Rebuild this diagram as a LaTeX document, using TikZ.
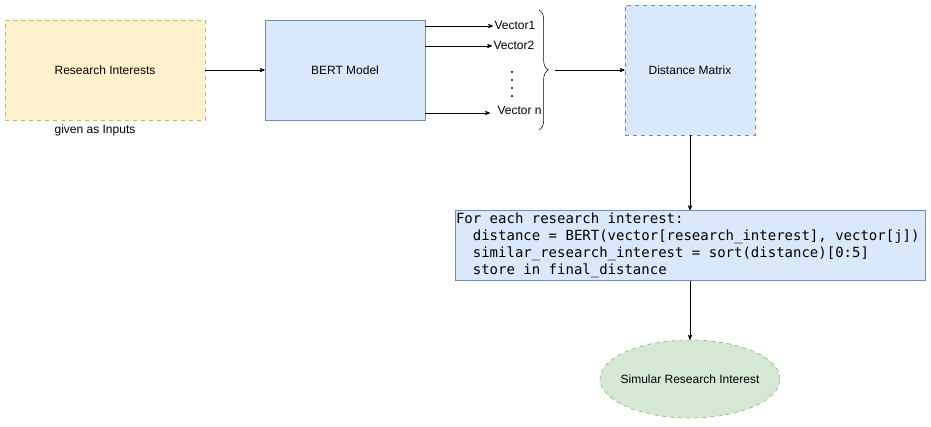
\documentclass[tikz,border=0pt]{standalone}
\usepackage{fontspec}
\setmainfont{Liberation Sans}
\setmonofont{DejaVu Sans Mono}
\usetikzlibrary{arrows,calc,positioning,shapes.geometric,decorations.pathreplacing}
\definecolor{inyellow}{HTML}{FFF2CC}
\definecolor{inyellowdraw}{HTML}{D6B656}
\definecolor{procblue}{HTML}{DAE8FC}
\definecolor{procbluedraw}{HTML}{6C8EBF}
\definecolor{outgreen}{HTML}{D5E8D4}
\definecolor{outgreendraw}{HTML}{82B366}
\newcommand{\codefont}{\ttfamily\fontsize{10.5}{12.75}\selectfont}
\newcommand{\monospaces}{\spaceskip=\fontcharwd\font`x\xspaceskip=\fontcharwd\font`x\relax}
\newcommand{\ind}{\hspace*{2\fontcharwd\font`x}}
\tikzset{%
	inbox/.style    = {draw=inyellowdraw, fill=inyellow, dashed, rectangle, minimum width=150pt, minimum height=75pt, text centered}, % Input
	model/.style    = {draw=procbluedraw, fill=procblue, rectangle, minimum width=120pt, minimum height=75pt, text centered},
	matrixbox/.style= {draw=procbluedraw, fill=procblue, dashed, rectangle, minimum width=97.5pt, minimum height=97.5pt, text centered},
	codebox/.style  = {draw=procbluedraw, fill=procblue, rectangle, minimum width=352.5pt, minimum height=52.5pt, text width=351pt, inner xsep=0.75pt, inner ysep=0pt, align=left, font=\codefont},
	result/.style   = {draw=outgreendraw, fill=outgreen, dashed, ellipse, inner xsep=-14pt, inner ysep=0pt, minimum width=135pt, minimum height=58.5pt, text centered},
	vlabel/.style   = {inner sep=1pt, font=\fontsize{9}{11}\selectfont},
	arrow/.style    = {->, >=stealth'},
}
\begin{document}
\begin{tikzpicture}[x=0.75pt,y=-0.75pt,font=\fontsize{9}{11}\selectfont]
	\useasboundingbox (0,0) rectangle (931,426);
	\node [inbox] (ri) at (105,70) {Research Interests};
	\node [vlabel] (given) at (95,130) {given as Inputs};
	\node [model] (bert) at (345,70) {BERT Model};
	\node [matrixbox] (dm) at (690,70) {Distance Matrix};
	\node [codebox] (code) at (690,245.5) {\monospaces For each research interest:\\
\ind distance = BERT(vector[research\_interest], vector[j])\\
\ind similar\_research\_interest = sort(distance)[0:5]\\
\ind store in final\_distance};
	\node [result] (sim) at (690,379) {Simular Research Interest};
	
	% vectors coming out of the model
	\node [vlabel, anchor=west] (v1) at (493,25) {Vector1};
	\node [vlabel, anchor=west] (v2) at (492,45) {Vector2};
	\node [vlabel, anchor=west] (vn) at (496,110) {Vector n};
	\coordinate (dots) at (512,72);
	\foreach \i in {0,...,3}
		\fill ($(dots)+(0,8*\i)$) circle (0.9pt);
	\coordinate (bt) at (539,10);
	\coordinate (bb) at (539,130);
	\coordinate (tip) at (555,70);
	
	\draw[arrow] (ri) -- (bert);
	\draw[arrow] (bert.east |- 0,26) -- (v1.west |- 0,26);
	\draw[arrow] (bert.east |- 0,46) -- (v2.west |- 0,46);
	\draw[arrow] (bert.east |- 0,113) -- (490,113);
	\draw[decorate, decoration={brace, amplitude=7pt}] (bt) -- (bb);
	\draw[arrow] (tip) -- (dm);
	\draw[arrow] (dm) -- (code);
	\draw[arrow] (code) -- (sim);
\end{tikzpicture}
\end{document}
